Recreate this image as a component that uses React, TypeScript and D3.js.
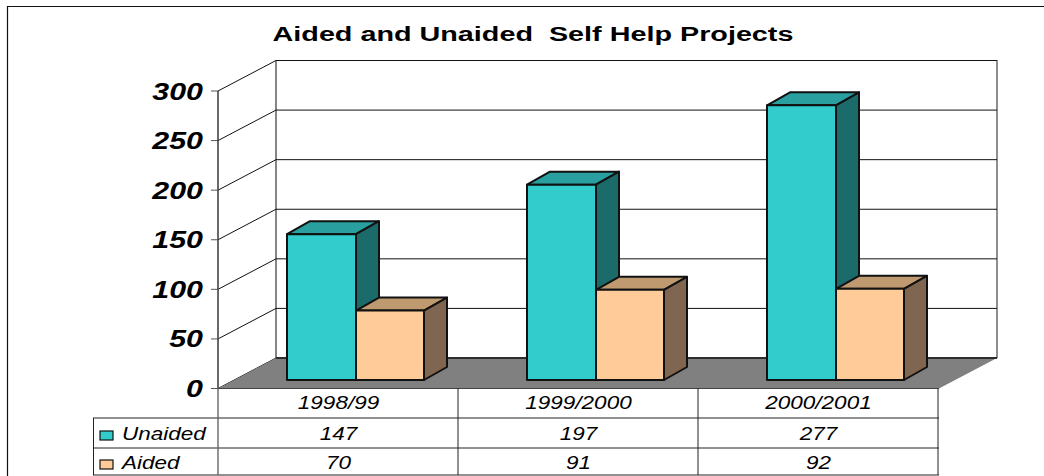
import * as d3 from "d3";

const categories = ["1998/99", "1999/2000", "2000/2001"];
const unaided = [147, 197, 277];
const aided = [70, 91, 92];
const yTicks = [0, 50, 100, 150, 200, 250, 300];

const FONT = "'Liberation Sans', Arial, sans-serif";
const width = 1044;
const height = 476;

// front plane of the 3d box, the back wall sits depth px up and to the right
const x0 = 218;
const x1 = 938;
const depthX = 58;
const depthY = 30.5;
const barDepthX = 23;
const barDepthY = 13;
const floorInset = 8.5;

const x = d3.scaleBand<string>().domain(categories).range([x0, x1]);
const y = d3.scaleLinear().domain([0, 300]).range([388.5, 91]);

const tableLeft = 93;
const rowLines = [418, 448, 475];

type BoxProps = {
  left: number;
  w: number;
  value: number;
  front: string;
  top: string;
  side: string;
};

function Box({ left, w, value, front, top, side }: BoxProps) {
  const base = y(0) - floorInset;
  const t = y(value) - floorInset;
  const r = left + w;
  const stroke = { stroke: "#111", strokeWidth: 2, strokeLinejoin: "round" as const };
  return (
    <g>
      <polygon
        points={`${left},${t} ${left + barDepthX},${t - barDepthY} ${r + barDepthX},${t - barDepthY} ${r},${t}`}
        fill={top}
        {...stroke}
      />
      <polygon
        points={`${r},${t} ${r + barDepthX},${t - barDepthY} ${r + barDepthX},${base - barDepthY} ${r},${base}`}
        fill={side}
        {...stroke}
      />
      <rect x={left} y={t} width={w} height={base - t} fill={front} {...stroke} />
    </g>
  );
}

// the original is stretched sideways, so text gets a horizontal scale
function Label(props: {
  x: number;
  y: number;
  size: number;
  sx: number;
  anchor?: string;
  weight?: string;
  italic?: boolean;
  children: React.ReactNode;
}) {
  return (
    <text
      transform={`translate(${props.x},${props.y}) scale(${props.sx},1)`}
      fontFamily={FONT}
      fontSize={props.size}
      fontWeight={props.weight ?? "normal"}
      fontStyle={props.italic === false ? "normal" : "italic"}
      textAnchor={props.anchor ?? "middle"}
      fill="#000"
    >
      {props.children}
    </text>
  );
}

export default function App() {
  const bw = x.bandwidth();
  const rows = [
    { name: "Unaided", values: unaided, color: "#33CCCC" },
    { name: "Aided", values: aided, color: "#FFCC99" },
  ];
  return (
    <svg
      width={width}
      height={height}
      style={{ position: "absolute", left: 0, top: 0, background: "#fff" }}
    >
      {/* outer frame */}
      <path d={`M7.5,${height} V6.5 H${width}`} fill="none" stroke="#111" strokeWidth={1.2} />

      <Label x={533} y={41} size={21} sx={1.37} weight="bold" italic={false}>
        Aided and Unaided{"\u00a0\u00a0"}Self Help Projects
      </Label>

      {/* walls and gridlines */}
      <path
        d={`M${x0 + depthX},${y(300) - depthY} H${x1 + depthX + 1} V${y(0) - depthY}`}
        fill="none"
        stroke="#444"
        strokeWidth={1.2}
      />
      <line x1={x0 + depthX} x2={x0 + depthX} y1={y(300) - depthY} y2={y(0) - depthY} stroke="#444" strokeWidth={1.3} />
      {yTicks.map((t) => (
        <g key={t}>
          <line x1={x0 + depthX} x2={x1 + depthX + 1} y1={y(t) - depthY} y2={y(t) - depthY} stroke="#111" strokeWidth={1} />
          <line x1={x0} x2={x0 + depthX} y1={y(t)} y2={y(t) - depthY} stroke="#111" strokeWidth={1} />
          <line x1={x0 - 7} x2={x0} y1={y(t)} y2={y(t)} stroke="#555" strokeWidth={1} />
          <Label x={203} y={y(t) + 8.5} size={23} sx={1.32} anchor="end" weight="bold">
            {t}
          </Label>
        </g>
      ))}
      <line x1={x0} x2={x0} y1={y(300)} y2={y(0)} stroke="#444" strokeWidth={1.6} />

      {/* floor */}
      <polygon
        points={`${x0},${y(0)} ${x0 + depthX},${y(0) - depthY} ${x1 + depthX + 1},${y(0) - depthY} ${x1 + 1},${y(0)}`}
        fill="#808080"
      />
      <line x1={x0 + depthX} x2={x1 + depthX + 1} y1={y(0) - depthY} y2={y(0) - depthY} stroke="#111" strokeWidth={1.6} />

      {/* bars */}
      {categories.map((c, i) => {
        const left = (x(c) as number) + bw * 0.2875;
        const w = bw * 0.2875;
        return (
          <g key={c}>
            <Box left={left} w={w} value={unaided[i]} front="#33CCCC" top="#299F9F" side="#1C6B6B" />
            <Box left={left + w} w={w - 1} value={aided[i]} front="#FFCC99" top="#BF9970" side="#806650" />
          </g>
        );
      })}

      {/* data table */}
      <line x1={x0} x2={x1 + 1} y1={y(0)} y2={y(0)} stroke="#444" strokeWidth={1.2} />
      {rowLines.map((ly) => (
        <line key={ly} x1={tableLeft} x2={x1 + 1} y1={ly} y2={ly} stroke="#222" strokeWidth={1} />
      ))}
      <line x1={tableLeft + 0.5} x2={tableLeft + 0.5} y1={rowLines[0]} y2={rowLines[2]} stroke="#222" strokeWidth={1} />
      <line x1={x0} x2={x0} y1={y(0)} y2={rowLines[2]} stroke="#666" strokeWidth={1.4} />
      {categories.map((c) => (
        <line
          key={c}
          x1={(x(c) as number) + bw}
          x2={(x(c) as number) + bw}
          y1={y(0)}
          y2={rowLines[2]}
          stroke="#222"
          strokeWidth={1}
        />
      ))}
      {categories.map((c) => (
        <Label key={c} x={(x(c) as number) + bw / 2 + 0.5} y={409} size={18} sx={1.25}>
          {c}
        </Label>
      ))}
      {rows.map((row, ri) => (
        <g key={row.name}>
          <rect x={100} y={431 + ri * 29} width={13} height={9} fill={row.color} stroke="#111" strokeWidth={1.2} />
          <Label x={122} y={440 + ri * 29} size={18} sx={1.25} anchor="start">
            {row.name}
          </Label>
          {row.values.map((v, i) => (
            <Label key={categories[i]} x={(x(categories[i]) as number) + bw / 2 + 0.5} y={439.5 + ri * 29} size={18} sx={1.25}>
              {v}
            </Label>
          ))}
        </g>
      ))}
    </svg>
  );
}
